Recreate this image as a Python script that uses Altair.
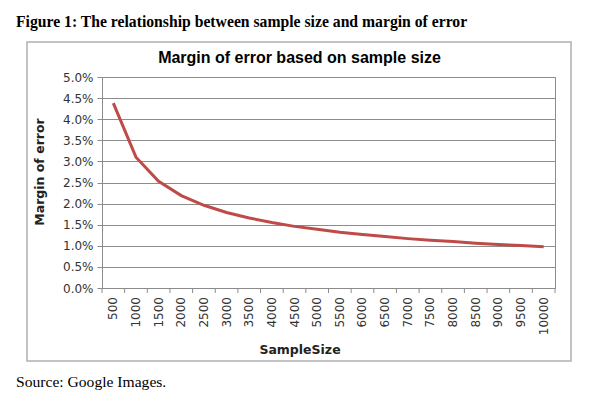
import altair as alt
import pandas as pd

sample_sizes = [500, 1000, 1500, 2000, 2500, 3000, 3500, 4000, 4500, 5000,
                5500, 6000, 6500, 7000, 7500, 8000, 8500, 9000, 9500, 10000]
margin_pct = [4.38, 3.10, 2.53, 2.19, 1.96, 1.79, 1.66, 1.55, 1.46, 1.39,
              1.32, 1.27, 1.22, 1.17, 1.13, 1.10, 1.06, 1.03, 1.01, 0.98]
y_ticks = [0, 0.005, 0.01, 0.015, 0.02, 0.025, 0.03, 0.035, 0.04, 0.045, 0.05]
x_tick_marks = [250, 750, 1250, 1750, 2250, 2750, 3250, 3750, 4250, 4750, 5250,
                5750, 6250, 6750, 7250, 7750, 8250, 8750, 9250, 9750, 10250]

fig_title = "Figure 1: The relationship between sample size and margin of error"
chart_title = "Margin of error based on sample size"
source_text = "Source: Google Images."
x_title = "SampleSize"
y_title = "Margin of error"

df = pd.DataFrame({"n": sample_sizes, "moe": [v / 100 for v in margin_pct],
                   "lbl": [str(s) for s in sample_sizes]})
ticks_df = pd.DataFrame({"t": x_tick_marks})

W, H = 453, 211
GRAY = "#8c8c8c"

xscale = alt.Scale(domain=[250, 10250], nice=False, zero=False)
yscale = alt.Scale(domain=[0, 0.05], nice=False)

box = alt.Chart(pd.DataFrame({"a": [0]})).mark_rect(
    fillOpacity=0, stroke="#b0b0b0", strokeWidth=1.5
).encode(x=alt.value(-75), x2=alt.value(469), y=alt.value(-35), y2=alt.value(284))

line = alt.Chart(df).mark_line(color="#be4b48", strokeWidth=3).encode(
    x=alt.X("n:Q", scale=xscale,
            axis=alt.Axis(values=sample_sizes, labels=False, ticks=False, grid=False,
                          title=None, domainColor=GRAY)),
    y=alt.Y("moe:Q", scale=yscale,
            axis=alt.Axis(values=y_ticks, format=".1%", title=None, grid=True,
                          gridColor=GRAY, gridWidth=1, domainColor=GRAY,
                          tickColor=GRAY, tickSize=5, labelPadding=4,
                          labelFont="DejaVu Sans", labelFontSize=12,
                          labelColor="#333333")),
)

xlabels = alt.Chart(df).mark_text(
    angle=270, align="right", baseline="middle", font="DejaVu Sans",
    fontSize=12, color="#333333"
).encode(x=alt.X("n:Q", scale=xscale), y=alt.value(H + 9), text="lbl:N")

xticks = alt.Chart(ticks_df).mark_rule(color=GRAY, strokeWidth=1).encode(
    x=alt.X("t:Q", scale=xscale), y=alt.value(H), y2=alt.value(H + 5)
)

def txt(s, x, y, **kw):
    return alt.Chart(pd.DataFrame({"s": [s]})).mark_text(**kw).encode(
        text="s:N", x=alt.value(x), y=alt.value(y))

t_fig = txt(fig_title, -86, -50, font="Liberation Serif", fontSize=15.7,
            fontWeight="bold", align="left", baseline="alphabetic", color="#000000")
t_chart = txt(chart_title, 197.5, -14, font="Liberation Sans", fontSize=16,
              fontWeight="bold", align="center", baseline="alphabetic", color="#000000")
t_src = txt(source_text, -86, 310, font="Liberation Serif", fontSize=15.6,
            align="left", baseline="alphabetic", color="#000000")
t_x = txt(x_title, 198, 273, font="DejaVu Sans", fontSize=12.5, fontWeight="bold",
          align="center", baseline="middle", color="#222222")
t_y = txt(y_title, -62, 95, font="DejaVu Sans", fontSize=12.5, fontWeight="bold",
          align="center", baseline="middle", angle=270, color="#222222")

chart = alt.layer(box, xticks, line, xlabels, t_fig, t_chart, t_src, t_x, t_y).properties(
    width=W, height=H,
    autosize=alt.AutoSizeParams(type="none"),
    padding={"left": 94, "top": 69, "right": 35, "bottom": 103},
).configure_view(stroke=GRAY, strokeWidth=1)

chart.save("out.html", embed_options={"renderer": "svg", "actions": False})
